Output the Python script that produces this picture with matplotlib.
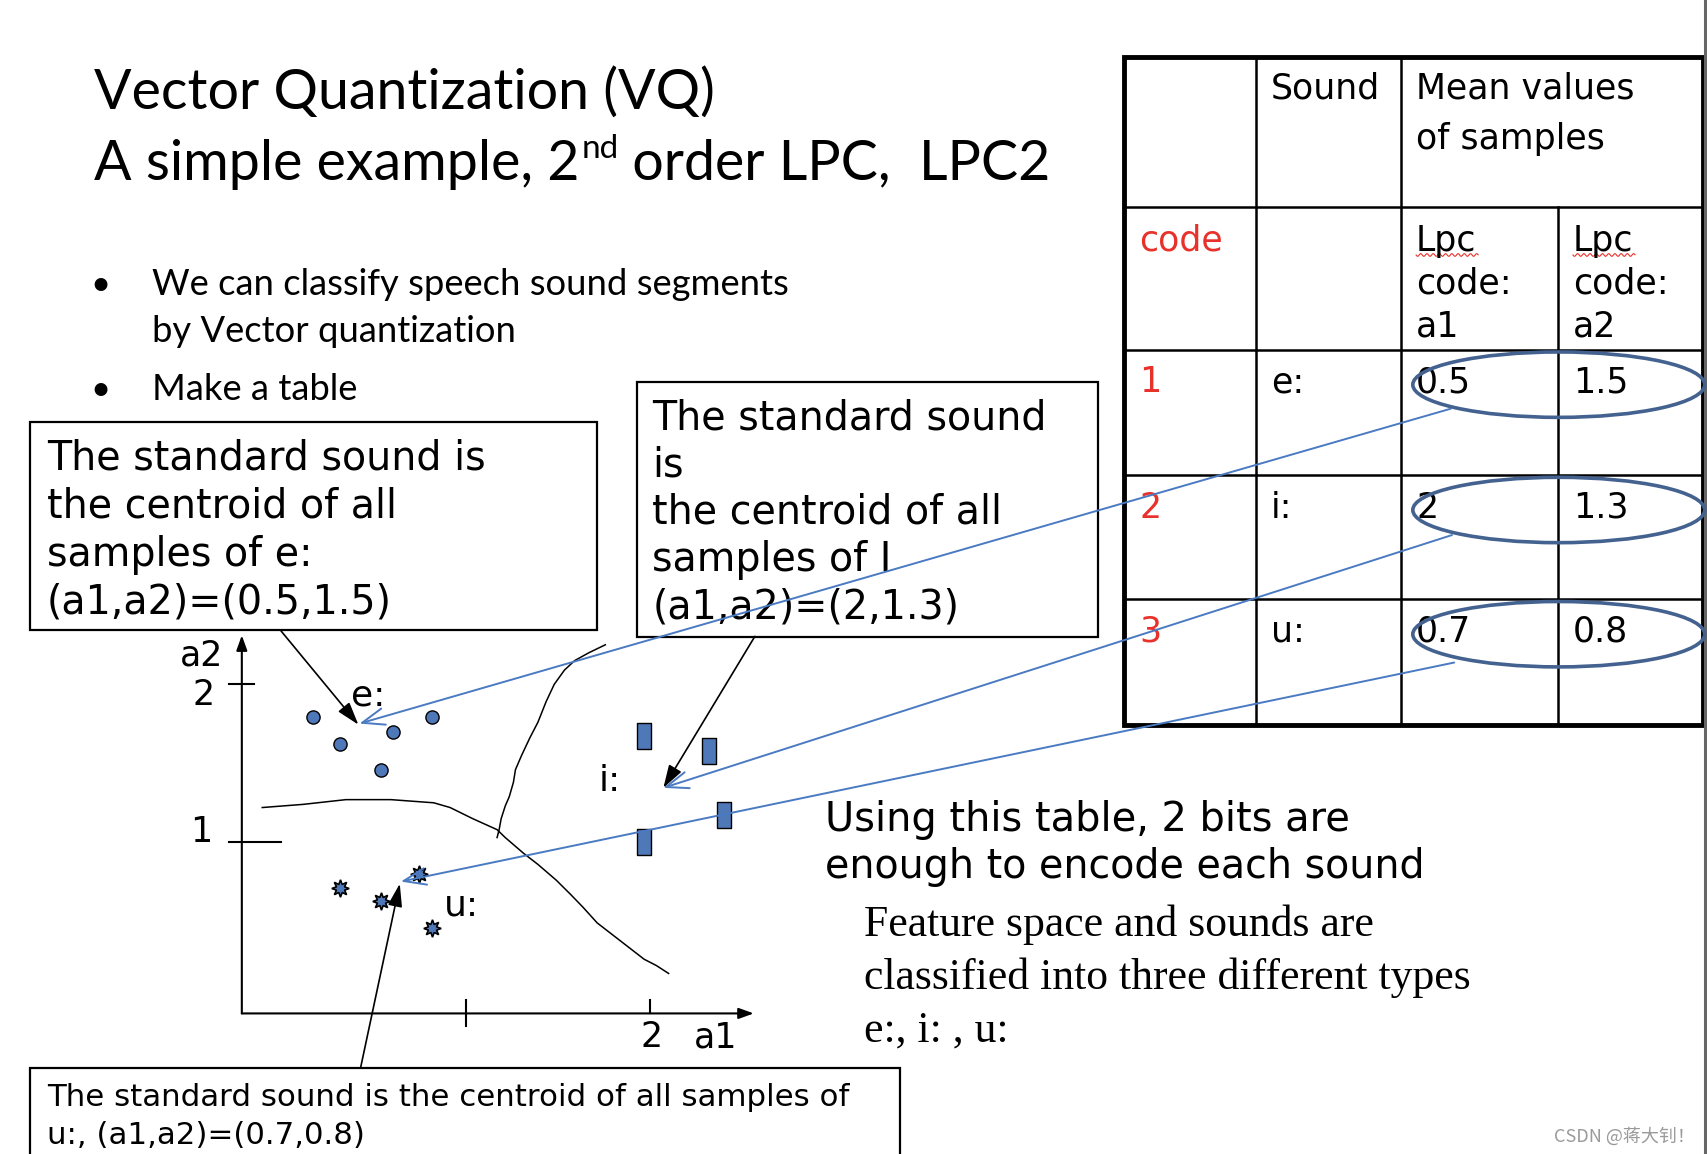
import numpy as np
import matplotlib
matplotlib.use("Agg")
import matplotlib.pyplot as plt
from matplotlib.patches import Rectangle, Ellipse
from matplotlib.path import Path

# sample points in the (a1, a2) feature space
e_a1 = [0.35, 0.48, 0.74, 0.93, 0.68]
e_a2 = [1.79, 1.62, 1.70, 1.79, 1.46]
i_a1 = [1.97, 2.29, 2.36, 1.97]
i_a2 = [1.67, 1.58, 1.17, 1.00]
u_a1 = [0.48, 0.68, 0.87, 0.93]
u_a2 = [0.71, 0.63, 0.80, 0.46]

# hand drawn class boundaries
b1_a1 = [0.10, 0.30, 0.51, 0.73, 0.94, 1.02, 1.13, 1.25, 1.29, 1.38, 1.45,
         1.54, 1.61, 1.67, 1.74, 1.85, 1.97, 2.03, 2.09]
b1_a2 = [1.22, 1.24, 1.27, 1.27, 1.25, 1.22, 1.15, 1.08, 1.03, 0.93, 0.86,
         0.76, 0.67, 0.59, 0.49, 0.38, 0.26, 0.22, 0.17]
b2_a1 = [1.78, 1.70, 1.63, 1.58, 1.53, 1.49, 1.45, 1.41, 1.37, 1.34, 1.33,
         1.31, 1.29, 1.27, 1.26, 1.25]
b2_a2 = [2.25, 2.20, 2.15, 2.09, 2.00, 1.89, 1.76, 1.66, 1.55, 1.46, 1.38,
         1.29, 1.23, 1.15, 1.08, 1.03]

# codebook table
codes = ['1', '2', '3']
sounds = ['e:', 'i:', 'u:']
lpc_a1 = ['0.5', '2', '0.7']
lpc_a2 = ['1.5', '1.3', '0.8']

# where the arrows point to (slide pixels)
centroid_px = [(330, 664), (609, 723), (368, 809)]
ellipse_tail_px = [(1332, 375), (1333, 491), (1335, 608)]

blue = '#4f78b8'
arrow_blue = '#4a7ac2'
ring = '#44628f'
sans = 'DejaVu Sans'
calibri = ['Lato', 'DejaVu Sans']
W, H = 1568, 1059

plt.rcParams['font.family'] = ['DejaVu Sans']
fig = plt.figure(figsize=(17.08, 11.54), dpi=100)
fig.patch.set_facecolor('white')

ax = fig.add_axes([0, 0, 1, 1])
ax.set_xlim(0, W)
ax.set_ylim(H, 0)
ax.axis('off')

# title
ax.text(86, 100, 'Vector Quantization (VQ)', fontsize=40, family=calibri, va='baseline')
fig.canvas.draw()
rend = fig.canvas.get_renderer()
inv = ax.transData.inverted()
t = ax.text(86, 165, 'A simple example, 2', fontsize=40, family=calibri, va='baseline')
x_end = inv.transform((t.get_window_extent(rend).x1, 0))[0]
t = ax.text(x_end + 2, 145, 'nd', fontsize=24, family=calibri, va='baseline')
x_end = inv.transform((t.get_window_extent(rend).x1, 0))[0]
ax.text(x_end, 165, ' order LPC,  LPC2', fontsize=40, family=calibri, va='baseline')

# bullets
for y, s in [(271, 'We can classify speech sound segments'), (367, 'Make a table')]:
    ax.text(92, y, '\u2022', fontsize=25, family=calibri, va='baseline', ha='center')
    ax.text(140, y, s, fontsize=26.2, family=calibri, va='baseline')
ax.text(140, 314, 'by Vector quantization', fontsize=26.2, family=calibri, va='baseline')

# callout boxes
ax.add_patch(Rectangle((28, 387), 520, 191, fc='white', ec='black', lw=1.6, zorder=2))
box1 = ['The standard sound is', 'the centroid of all', 'samples of ' + sounds[0],
        '(a1,a2)=(%s,%s)' % (lpc_a1[0], lpc_a2[0])]
for k, s in enumerate(box1):
    ax.text(43, 431 + 44 * k, s, fontsize=28.5, family=sans, va='baseline', zorder=3)

ax.add_patch(Rectangle((585, 351), 423, 234, fc='white', ec='black', lw=1.6, zorder=2))
box2 = ['The standard sound', 'is', 'the centroid of all', 'samples of I',
        '(a1,a2)=(%s,%s)' % (lpc_a1[1], lpc_a2[1])]
for k, s in enumerate(box2):
    ax.text(599, 394 + 43.3 * k, s, fontsize=28.5, family=sans, va='baseline', zorder=3)

ax.add_patch(Rectangle((28, 980), 798, 120, fc='white', ec='black', lw=1.6, zorder=2))
box3 = ['The standard sound is the centroid of all samples of',
        sounds[2] + ', (a1,a2)=(%s,%s)' % (lpc_a1[2], lpc_a2[2])]
for k, s in enumerate(box3):
    ax.text(43, 1015 + 35 * k, s, fontsize=22.2, family=sans, va='baseline', zorder=3)

# side notes
ax.text(757, 763, 'Using this table, 2 bits are', fontsize=28.7, family=sans, va='baseline')
ax.text(757, 806, 'enough to encode each sound', fontsize=28.5, family=sans, va='baseline')
serif_lines = ['Feature space and sounds are', 'classified into three different types',
               'e:, i: , u:']
for k, s in enumerate(serif_lines):
    ax.text(793, 859 + 48.5 * k, s, fontsize=31.5, family='Liberation Serif', va='baseline')

# table
cols = [1032, 1153, 1286, 1430, 1563]
rows = [52, 190, 321, 436, 550, 665]
for y in rows[1:-1]:
    ax.plot([cols[0], cols[-1]], [y, y], color='black', lw=1.8)
for x in cols[1:3]:
    ax.plot([x, x], [rows[0], rows[-1]], color='black', lw=1.8)
ax.plot([cols[3], cols[3]], [rows[1], rows[-1]], color='black', lw=1.8)
ax.add_patch(Rectangle((cols[0], rows[0]), cols[-1] - cols[0], rows[-1] - rows[0],
                       fc='none', ec='black', lw=3.5))

tfs = 25
ax.text(1167, 90, 'Sound', fontsize=tfs, va='baseline')
ax.text(1300, 90, 'Mean values', fontsize=tfs, va='baseline')
ax.text(1300, 137, 'of samples', fontsize=tfs, va='baseline')
ax.text(1046, 230, 'code', fontsize=tfs, va='baseline', color='#e8312a')
for x, a in [(1300, 'a1'), (1444, 'a2')]:
    ax.text(x, 230, 'Lpc', fontsize=tfs, va='baseline')
    ax.text(x, 269, 'code:', fontsize=tfs, va='baseline')
    ax.text(x, 309, a, fontsize=tfs, va='baseline')
    wx = np.linspace(x, x + 57, 60)
    ax.plot(wx, 234 + 1.3 * np.sin((wx - x) * 1.1), color='#e8312a', lw=0.8)

row_base = [360, 475, 589]
for k in range(3):
    y = row_base[k]
    ax.text(1046, y, codes[k], fontsize=tfs, va='baseline', color='#e8312a')
    ax.text(1167, y, sounds[k], fontsize=tfs, va='baseline')
    ax.text(1300, y, lpc_a1[k], fontsize=tfs, va='baseline')
    ax.text(1444, y, lpc_a2[k], fontsize=tfs, va='baseline')
    ax.add_patch(Ellipse((1431, y - 7), 268, 60, fc='none', ec=ring, lw=2.6, zorder=4))

# watermark and page edge
ax.text(1556, 1048, 'CSDN @蒋大钊！', fontsize=13, color='#9a9a9a', ha='right',
        va='baseline', family=['Noto Sans CJK SC', 'DejaVu Sans'])
ax.plot([1565.5, 1565.5], [0, H], color='#666666', lw=2.2)

# feature space plot
left, right, top, bottom = 222, 692, 583, 930
ax2 = fig.add_axes([left / W, 1 - bottom / H, (right - left) / W, (bottom - top) / H])
ax2.set_xlim(0, 2.507)
ax2.set_ylim(-0.083, 2.31)
ax2.patch.set_visible(False)
for sp in ax2.spines.values():
    sp.set_visible(False)
ax2.set_xticks([])
ax2.set_yticks([])

ax2.annotate('', xy=(0, 1), xytext=(0, 0), xycoords='axes fraction',
             arrowprops=dict(arrowstyle='-|>,head_length=0.5,head_width=0.18',
                             color='black', lw=1.5, shrinkA=0, shrinkB=0, mutation_scale=18))
ax2.annotate('', xy=(1, 0), xytext=(0, 0), xycoords='axes fraction',
             arrowprops=dict(arrowstyle='-|>,head_length=0.5,head_width=0.18',
                             color='black', lw=1.5, shrinkA=0, shrinkB=0, mutation_scale=18))
ax2.plot([-0.064, 0.059], [2, 2], color='black', lw=1.5, clip_on=False)
ax2.plot([-0.064, 0.192], [1, 1], color='black', lw=1.5, clip_on=False)
ax2.plot([1.099, 1.099], [0, -0.16], color='black', lw=1.5, clip_on=False)
ax2.plot([2.0, 2.0], [0, -0.083], color='black', lw=1.5, clip_on=False)

ax2.plot(b1_a1, b1_a2, color='black', lw=1.1)
ax2.plot(b2_a1, b2_a2, color='black', lw=1.1)

rect = Path([(-0.5, -1), (0.5, -1), (0.5, 1), (-0.5, 1), (-0.5, -1)])
ax2.plot(e_a1, e_a2, 'o', ms=9.5, mfc=blue, mec='black', mew=1.0, ls='none')
ax2.plot(i_a1, i_a2, marker=rect, ms=19, mfc=blue, mec='black', mew=1.0, ls='none')
ax2.plot(u_a1, u_a2, marker=(8, 1, 0), ms=12.5, mfc=blue, mec='black', mew=1.2, ls='none')

lab = 25
ax.text(185, 611, 'a2', fontsize=lab, ha='center', va='baseline')
ax.text(187, 647, '2', fontsize=lab, ha='center', va='baseline')
ax.text(185, 773, '1', fontsize=lab, ha='center', va='baseline')
ax.text(598, 961, '2', fontsize=lab, ha='center', va='baseline')
ax.text(657, 961, 'a1', fontsize=lab, ha='center', va='baseline')
ax.text(338, 647, 'e:', fontsize=26, ha='center', va='baseline')
ax.text(560, 726, 'i:', fontsize=26, ha='center', va='baseline')
ax.text(424, 840, 'u:', fontsize=26, ha='center', va='baseline')

# arrows on top of everything
ax3 = fig.add_axes([0, 0, 1, 1])
ax3.set_xlim(0, W)
ax3.set_ylim(H, 0)
ax3.axis('off')
for tip, tail in zip(centroid_px, ellipse_tail_px):
    ax3.annotate('', xy=tip, xytext=tail,
                 arrowprops=dict(arrowstyle='->,head_length=0.8,head_width=0.3',
                                 color=arrow_blue, lw=1.4, shrinkA=0, shrinkB=0,
                                 mutation_scale=20))
black_tails = [(258, 579), (693, 584), (331, 980)]
black_tips = [(329, 665), (609, 723), (367, 811)]
for tip, tail in zip(black_tips, black_tails):
    ax3.annotate('', xy=tip, xytext=tail,
                 arrowprops=dict(arrowstyle='-|>,head_length=0.7,head_width=0.22',
                                 color='black', lw=1.2, shrinkA=0, shrinkB=0,
                                 mutation_scale=20))

fig.savefig('out.png', dpi=100)
